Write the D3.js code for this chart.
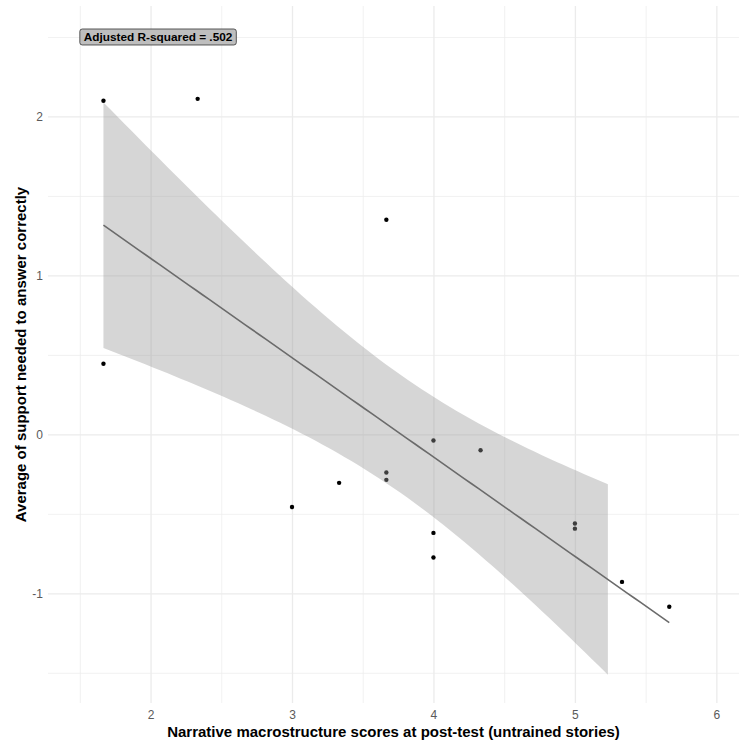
<!DOCTYPE html>
<html>
<head>
<meta charset="utf-8">
<script src="https://cdn.jsdelivr.net/npm/d3@7"></script>
<style>
  body { margin: 0; background: #fff; }
  text { font-family: "Liberation Sans", Arial, Helvetica, sans-serif; }
</style>
</head>
<body>
<div id="chart"></div>
<script>
// narrative scores (x) and z-scored support needed (y), one per child
let scoreX = [1.667, 1.667, 2.333, 3, 3.333, 3.667, 3.667, 3.667, 4, 4, 4, 4.333, 5, 5, 5.333, 5.667];
let supportY = [2.099, 0.444, 2.111, -0.457, -0.305, 1.35, -0.24, -0.286, -0.039, -0.62, -0.775, -0.1, -0.561, -0.593, -0.928, -1.084];

let xMajor = [2, 3, 4, 5, 6];
let xMinor = [1.5, 2.5, 3.5, 4.5, 5.5];
let yMajor = [-1, 0, 1, 2];
let yMinor = [-1.5, -0.5, 0.5, 1.5, 2.5];

let labelText = 'Adjusted R-squared = .502';
let ribbonEnd = 5.233; // the confidence band stops here in the original

let W = 739, H = 749;
let margin = { top: 6, right: 0, bottom: 46, left: 48 };
let width = W - margin.left - margin.right,
    height = H - margin.top - margin.bottom;

let svg = d3.select('#chart').append('svg')
    .attr('width', W)
    .attr('height', H);

let g = svg.append('g')
    .attr('transform', 'translate(' + margin.left + ',' + margin.top + ')');

let x = d3.scaleLinear().domain([1.275, 6.16]).range([0, width]);
let y = d3.scaleLinear().domain([-1.69, 2.695]).range([height, 0]);

// plain hyphen for negatives, like R
let fmt = function(d) { return String(d); };

// grid
function grid(axis, cls, sw) {
    let a = g.append('g').attr('class', cls).call(axis);
    a.select('.domain').remove();
    a.selectAll('line').attr('stroke', '#ebebeb').attr('stroke-width', sw);
    return a;
}
grid(d3.axisBottom(x).tickValues(xMinor).tickSize(height).tickFormat(''), 'xminor', 0.7);
grid(d3.axisLeft(y).tickValues(yMinor).tickSize(-width).tickFormat(''), 'yminor', 0.7);

let xa = grid(d3.axisBottom(x).tickValues(xMajor).tickSize(height).tickPadding(7).tickFormat(fmt), 'xmajor', 1.3);
let ya = grid(d3.axisLeft(y).tickValues(yMajor).tickSize(-width).tickPadding(5).tickFormat(fmt), 'ymajor', 1.3);
[xa, ya].forEach(function(a) {
    a.selectAll('text')
        .attr('fill', '#5a5a5a')
        .style('font-size', '12px');
});

// points (drawn under the band, like the original)
g.selectAll('.dot')
    .data(scoreX.map(function(d, i) { return { x: d, y: supportY[i] }; }))
    .enter().append('circle')
    .attr('class', 'dot')
    .attr('cx', function(d) { return x(d.x); })
    .attr('cy', function(d) { return y(d.y); })
    .attr('r', 2.2)
    .attr('fill', '#000');

// linear fit with 95% confidence band
let n = scoreX.length;
let mx = d3.mean(scoreX), my = d3.mean(supportY);
let sxx = d3.sum(scoreX, function(d) { return (d - mx) * (d - mx); });
let sxy = d3.sum(scoreX, function(d, i) { return (d - mx) * (supportY[i] - my); });
let slope = sxy / sxx, icpt = my - slope * mx;
let sse = d3.sum(scoreX, function(d, i) { let r = supportY[i] - (icpt + slope * d); return r * r; });
let s = Math.sqrt(sse / (n - 2));
let tq = 2.145; // t(0.975, 14)

function band(xv) {
    let fit = icpt + slope * xv;
    let se = s * Math.sqrt(1 / n + (xv - mx) * (xv - mx) / sxx);
    return { x: xv, fit: fit, lo: fit - tq * se, hi: fit + tq * se };
}

let xMin = d3.min(scoreX), xMax = d3.max(scoreX);
let fitPts = d3.range(0, 81).map(function(i) { return band(xMin + (xMax - xMin) * i / 80); });
let bandPts = fitPts.filter(function(d) { return d.x <= ribbonEnd; });
if (bandPts[bandPts.length - 1].x < ribbonEnd) bandPts.push(band(ribbonEnd));

g.append('path')
    .datum(bandPts)
    .attr('d', d3.area()
        .x(function(d) { return x(d.x); })
        .y0(function(d) { return y(d.lo); })
        .y1(function(d) { return y(d.hi); }))
    .attr('fill', '#999999')
    .attr('fill-opacity', 0.4);

g.append('path')
    .datum(fitPts)
    .attr('d', d3.line()
        .x(function(d) { return x(d.x); })
        .y(function(d) { return y(d.fit); }))
    .attr('fill', 'none')
    .attr('stroke', '#6b6b6b')
    .attr('stroke-width', 1.6);

// R-squared label
let lab = g.append('g')
    .attr('transform', 'translate(' + x(1.5) + ',' + y(2.5) + ')');
let box = lab.append('rect');
let lt = lab.append('text')
    .attr('x', 4)
    .attr('dy', '0.36em')
    .style('font-size', '11.8px')
    .style('font-weight', 'bold')
    .attr('fill', '#000')
    .text(labelText);
let tw = lt.node().getComputedTextLength();
box.attr('x', 0).attr('y', -8)
    .attr('width', tw + 8).attr('height', 16)
    .attr('rx', 2.5)
    .attr('fill', '#bebebe')
    .attr('stroke', '#333')
    .attr('stroke-width', 0.8);

// axis titles
svg.append('text')
    .attr('x', margin.left + width / 2)
    .attr('y', 737)
    .attr('text-anchor', 'middle')
    .style('font-size', '15px')
    .style('font-weight', 'bold')
    .text('Narrative macrostructure scores at post-test (untrained stories)');

svg.append('text')
    .attr('transform', 'translate(26,' + (margin.top + height / 2) + ') rotate(-90)')
    .attr('text-anchor', 'middle')
    .style('font-size', '15px')
    .style('font-weight', 'bold')
    .text('Average of support needed to answer correctly');
</script>
</body>
</html>
